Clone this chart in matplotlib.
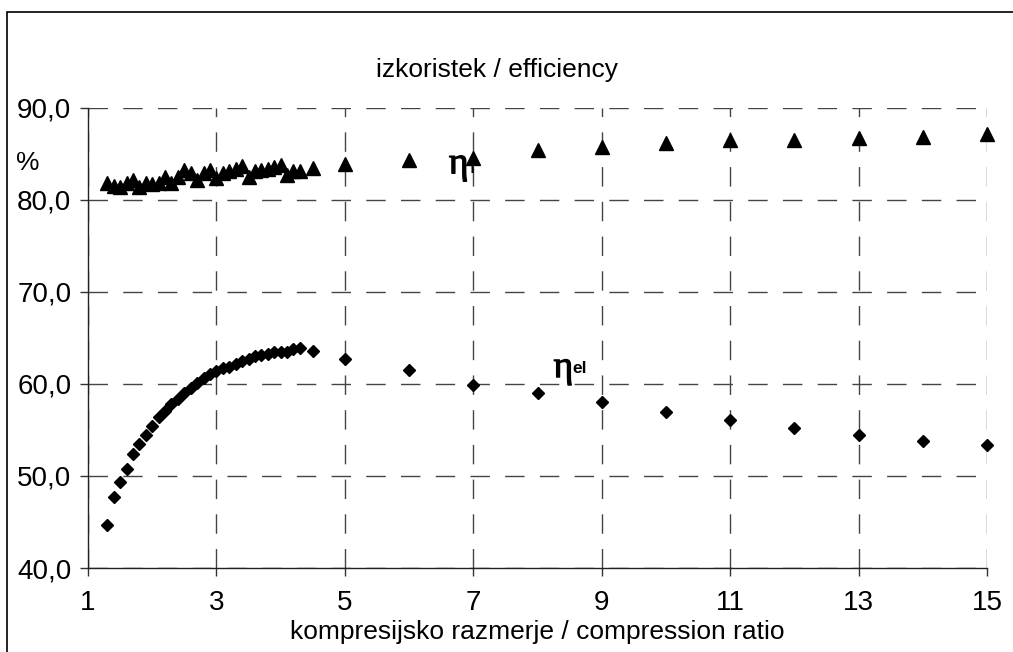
import matplotlib
matplotlib.use("Agg")
import matplotlib.pyplot as plt
import matplotlib.patheffects as pe
from matplotlib.patches import Rectangle

# ---- data ----
x_dense = [1.3, 1.4, 1.5, 1.6, 1.7, 1.8, 1.9, 2.0, 2.1, 2.2, 2.3, 2.4, 2.5, 2.6, 2.7,
           2.8, 2.9, 3.0, 3.1, 3.2, 3.3, 3.4, 3.5, 3.6, 3.7, 3.8, 3.9, 4.0, 4.1, 4.2, 4.3, 4.5]
x_sparse = [5, 6, 7, 8, 9, 10, 11, 12, 13, 14, 15]
x_vals = x_dense + x_sparse

eta_T = [81.9, 81.5, 81.4, 81.8, 82.2, 81.4, 81.8, 81.7, 81.8, 82.5, 81.8, 82.5, 83.3, 82.9, 82.2,
         82.9, 83.3, 82.4, 82.9, 83.2, 83.4, 83.7, 82.5, 83.1, 83.3, 83.4, 83.6, 83.8, 82.7, 83.1, 83.1, 83.5,
         83.9, 84.4, 84.6, 85.4, 85.8, 86.2, 86.5, 86.5, 86.7, 86.9, 87.2]

eta_el = [44.7, 47.7, 49.4, 50.8, 52.4, 53.5, 54.5, 55.4, 56.4, 57.1, 57.8, 58.4, 59.0, 59.6, 60.1,
          60.6, 61.1, 61.4, 61.7, 61.9, 62.2, 62.5, 62.7, 63.0, 63.1, 63.3, 63.5, 63.5, 63.5, 63.8, 63.9, 63.6,
          62.7, 61.5, 59.9, 59.0, 58.0, 57.0, 56.1, 55.2, 54.5, 53.8, 53.4]

x_ticks = [1, 3, 5, 7, 9, 11, 13, 15]
y_ticks = [40, 50, 60, 70, 80, 90]
y_tick_labels = ["40,0", "50,0", "60,0", "70,0", "80,0", "90,0"]

title_text = "izkoristek / efficiency"
xlabel_text = "kompresijsko razmerje / compression ratio"

# ---- figure ----
W, H = 1013, 652
plt.rcParams['font.family'] = ['Liberation Sans', 'DejaVu Sans']
fig = plt.figure(figsize=(W / 100, H / 100), dpi=100)
ax = fig.add_axes([88 / W, 1 - 568 / H, (987 - 88) / W, (568 - 108) / H])

ax.set_xlim(1, 15)
ax.set_ylim(40, 90)

ax.plot(x_vals, eta_T, linestyle='none', marker='^', ms=9.5, color='black', zorder=3, clip_on=False)
ax.plot(x_vals, eta_el, linestyle='none', marker='D', ms=6.2, color='black', zorder=3, clip_on=False)

ax.set_xticks(x_ticks)
ax.set_xticklabels([str(t) for t in x_ticks])
ax.set_yticks(y_ticks)
ax.set_yticklabels(y_tick_labels)
ax.tick_params(axis='both', direction='out', length=6, width=1, color='#333333',
               labelsize=20, labelcolor='black')
ax.tick_params(axis='x', pad=10)
ax.tick_params(axis='y', pad=6)

for s in ['top', 'right']:
    ax.spines[s].set_visible(False)
for s in ['left', 'bottom']:
    ax.spines[s].set_linewidth(1)
    ax.spines[s].set_color('#222222')

ax.grid(True, color='#444444', linewidth=1, linestyle=(0, (14, 11)))
ax.set_axisbelow(True)

ax.set_xlabel(xlabel_text, fontsize=19, labelpad=3)

fig.text(497 / W, 1 - 70 / H, title_text, fontsize=19, ha='center', va='center')
fig.text(28 / W, 1 - 163 / H, "%", fontsize=19, ha='center', va='center')

# eta labels
serif = ['Liberation Serif', 'DejaVu Serif']
thick = [pe.withStroke(linewidth=0.9, foreground='black')]
ax.text(6.62, 82.9, "η", fontsize=27, family=serif, ha='left', va='baseline', zorder=2,
        path_effects=thick)
ax.text(6.92, 82.9, "T", fontsize=11, fontweight='bold', ha='left', va='baseline', zorder=2)
ax.text(8.25, 60.75, "η", fontsize=27, family=serif, ha='left', va='baseline', zorder=2,
        path_effects=thick)
ax.text(8.54, 61.2, "el", fontsize=12.5, fontweight='bold', ha='left', va='baseline', zorder=2)

# outer frame (clipped at right/bottom)
fig.patches.append(Rectangle((7 / W, -0.1), 1.2, (1 - 12 / H) + 0.1, transform=fig.transFigure,
                             fill=False, edgecolor='black', linewidth=1.2))

fig.savefig("out.png", dpi=100)
